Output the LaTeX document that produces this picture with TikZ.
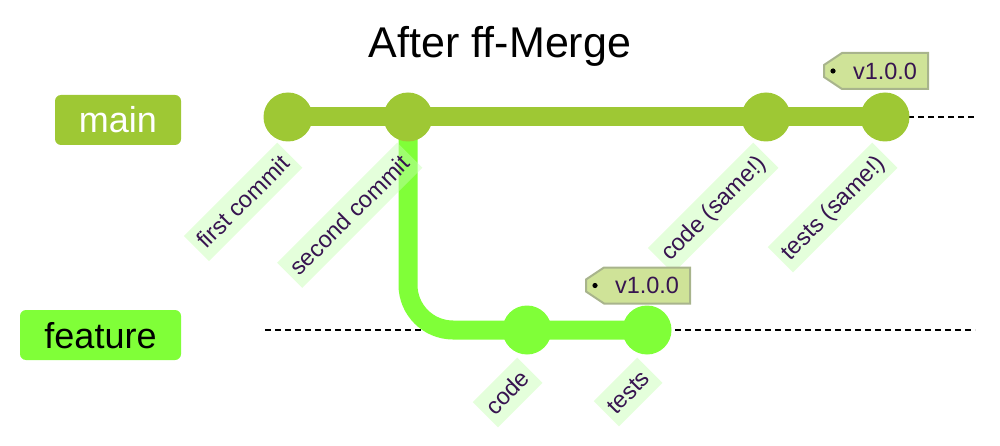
\documentclass[tikz,border=0pt]{standalone}
\usepackage{fontspec}
\setmainfont{Liberation Sans}
\usetikzlibrary{backgrounds, calc, positioning}
\definecolor{mainclr}{RGB}{158,200,52}
\definecolor{featclr}{RGB}{128,255,56}
\definecolor{tagfill}{RGB}{207,227,152}
\definecolor{tagline}{RGB}{168,180,140}
\definecolor{lblfill}{RGB}{196,255,176}
\definecolor{lbltext}{RGB}{55,20,80}

\tikzset{
  commit/.style={circle, inner sep=0pt, minimum size=49pt},
  branchbox/.style={rounded corners=6pt, inner sep=0pt, text height=26pt, text depth=0pt,
    font=\fontsize{36}{40}\selectfont},
  msglabel/.style={anchor=east, rotate=45, fill=lblfill, fill opacity=0.45, text opacity=1,
    text=lbltext, inner xsep=6pt, inner ysep=5pt, text height=20.8pt, text depth=4.9pt,
    font=\fontsize{23.5}{27}\selectfont},
  tagshape/.style={fill=tagfill, draw=tagline, line width=2pt},
  tagtext/.style={text=lbltext, font=\fontsize{23.5}{27}\selectfont},
  dashline/.style={black, line width=2pt, dash pattern=on 6pt off 4pt},
}

\newcommand{\drawtag}[1]{%
  \begin{scope}[shift={(#1)}]
    \filldraw[tagshape] (43,-18) -- (-43,-18) -- (-61,-6) -- (-61,6) -- (-43,18) -- (43,18) -- cycle;
    \fill[black] (-52,0) circle (2.6);
  \end{scope}}

\begin{document}
\begin{tikzpicture}[x=1pt, y=-1pt, line cap=butt]
  \useasboundingbox (0,0) rectangle (1000,446);

  % title
  \node[anchor=base, font=\fontsize{43}{48}\selectfont] (title) at (500,57.5) {After ff-Merge};

  % branch names
  \node[branchbox, fill=mainclr, text=white, minimum width=126pt, minimum height=50pt] (mainlbl) at (118,120) {main};
  \node[branchbox, fill=featclr, text=black, minimum width=161pt, minimum height=50pt] (featlbl) at (100.5,335) {feature};

  % commits
  \node[commit, fill=mainclr] (c1) at (288,117) {};
  \node[commit, fill=mainclr] (c2) at (408,117) {};
  \node[commit, fill=mainclr] (c3) at (766,117) {};
  \node[commit, fill=mainclr] (c4) at (885,117) {};
  \node[commit, fill=featclr] (f1) at (527,330) {};
  \node[commit, fill=featclr] (f2) at (647,330) {};

  \coordinate (mainend) at (975,117);
  \coordinate (featstart) at (265,330);
  \coordinate (featend) at (975,330);

  \begin{scope}[on background layer]
    \draw[dashline] (c1.center) -- (mainend);
    \draw[dashline] (featstart) -- (featend);
    \draw[mainclr, line width=19pt] (c1.center) -- (c4.center);
    \draw[featclr, line width=19pt, rounded corners=45pt] (c2.center) |- (f2.center);
  \end{scope}

  % commit messages
  \node[msglabel] (m1) at ($(c1)+(2,38)$) {first commit};
  \node[msglabel] (m2) at ($(c2)+(2,38)$) {second commit};
  \node[msglabel] (m3) at ($(c3)+(0,38)$) {code (same!)};
  \node[msglabel] (m4) at ($(c4)+(0,38)$) {tests (same!)};
  \node[msglabel] (m5) at ($(f1)+(3,40)$) {code};
  \node[msglabel] (m6) at ($(f2)+(3,40)$) {tests};

  % tags
  \coordinate (tagpos1) at ($(c4)+(0,-46)$);
  \coordinate (tagpos2) at ($(f2)+(0,-44.5)$);
  \drawtag{tagpos1}
  \drawtag{tagpos2}
  \node[tagtext] (tag1) at (tagpos1) {v1.0.0};
  \node[tagtext] (tag2) at (tagpos2) {v1.0.0};
\end{tikzpicture}
\end{document}
